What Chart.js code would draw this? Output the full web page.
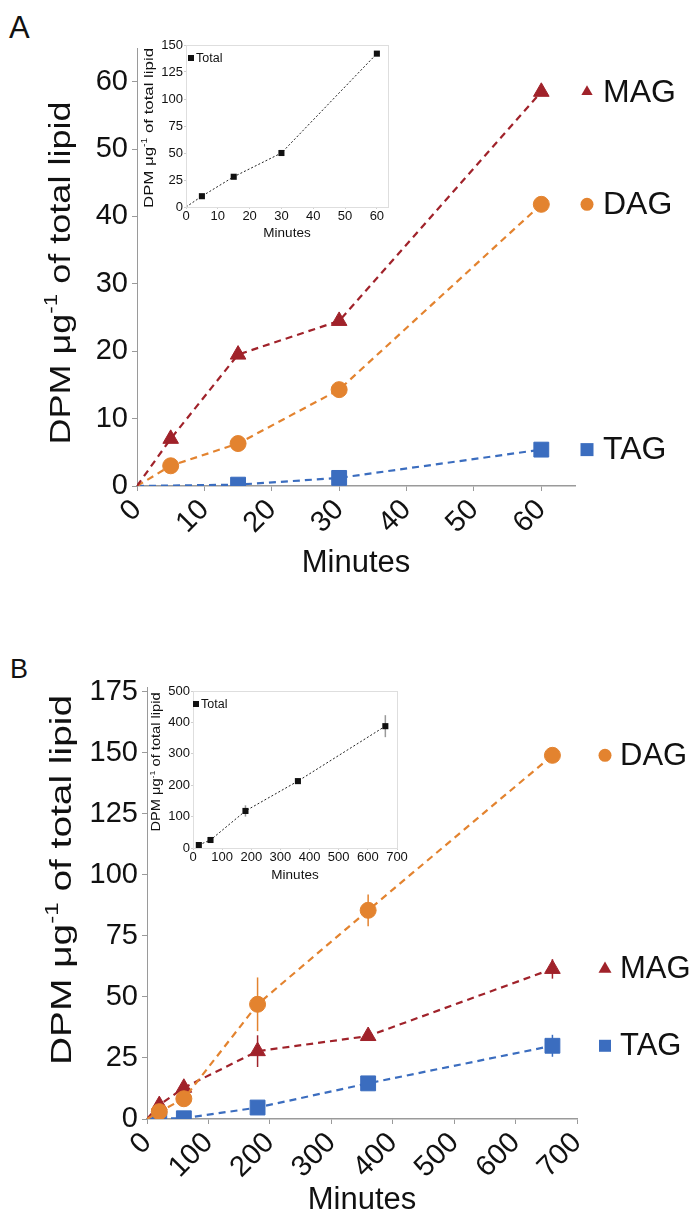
<!DOCTYPE html>
<html>
<head>
<meta charset="utf-8">
<script src="https://cdn.jsdelivr.net/npm/chart.js@4.4.1/dist/chart.umd.min.js"></script>
<style>
  body { margin: 0; background: #fff; width: 695px; height: 1219px; position: relative; overflow: hidden; font-family: 'Liberation Sans', Arial, sans-serif; }
  canvas, .panel { position: absolute; }
  #mainA { left: 0; top: 0; }
  #insetA { left: 125px; top: 30px; }
  #mainB { left: 0; top: 640px; }
  #insetB { left: 135px; top: 675px; }
  .panel { color: #111; line-height: 1; }
</style>
</head>
<body>
<div class="panel" style="left:9px;top:12px;font-size:31px">A</div>
<div class="panel" style="left:10px;top:656px;font-size:27px">B</div>
<canvas id="mainA" width="695" height="600"></canvas>
<canvas id="mainB" width="695" height="579"></canvas>
<canvas id="insetA" width="275" height="215"></canvas>
<canvas id="insetB" width="275" height="215"></canvas>
<script>
// panel A (minutes 0-60)
const minutesA = [0, 5, 15, 30, 60]
const magA = [0, 7.0, 19.5, 24.5, 58.5]
const dagA = [0, 3.0, 6.3, 14.3, 41.8]
const tagA = [0, null, 0.2, 1.2, 5.4]
const totalA = [0, 10, 28, 50, 142]

// panel B (minutes 0-660)
const minutesB = [0, 20, 60, 180, 360, 660]
const dagB = [0, 3, 8.3, 47, 85.5, 149]
const dagErrB = [0, 0, 1.5, 11, 6.5, 2]
const magB = [0, 5.7, 12.8, 27.8, 34, 61.5]
const magErrB = [0, 1, 2, 6.5, 1.5, 4]
const tagB = [0, 0.2, 0.3, 4.7, 14.6, 30]
const tagErrB = [0, 0, 0, 1, 1.5, 4.5]
const minutesTotalB = [20, 60, 180, 360, 660]
const totalB = [9.5, 25.5, 118, 213, 388]
const totalErrB = [3, 5, 18, 8, 35]

const FONT = "'Liberation Sans', Arial, sans-serif"
const MAG_C = '#a0222a'
const DAG_C = '#e3832f'
const TAG_C = '#3b6dbf'
const AXIS_C = '#9a9a9a'

Chart.defaults.font.family = FONT
Chart.defaults.color = '#111'
Chart.defaults.animation = false

function pts(xs, ys) {
    return xs.map((x, i) => ({ x: x, y: ys[i] }))
}
// first point (origin) has no marker
function radii(ys, r) {
    return ys.map((v, i) => (i === 0 ? 0 : r))
}

function drawMarker(ctx, style, x, y, r) {
    ctx.beginPath()
    if (style === 'triangle') {
        ctx.moveTo(x, y - r)
        ctx.lineTo(x + r * 0.866, y + r * 0.5)
        ctx.lineTo(x - r * 0.866, y + r * 0.5)
        ctx.closePath()
    } else if (style === 'rect') {
        ctx.rect(x - r, y - r, 2 * r, 2 * r)
    } else {
        ctx.arc(x, y, r, 0, Math.PI * 2)
    }
    ctx.fill()
}

function px(n) {
    return Math.round(n * 10) / 10 + 'px ' + FONT
}

// rotated y title with superscript -1
const yTitle = {
    id: 'yTitle',
    afterDraw(chart, args, o) {
        const ctx = chart.ctx
        const a = 'DPM \u03bcg', s = '-1', b = ' of total lipid'
        const big = px(o.size), small = px(o.size * 0.62)
        ctx.save()
        ctx.font = big
        const wa = ctx.measureText(a).width, wb = ctx.measureText(b).width
        ctx.font = small
        const ws = ctx.measureText(s).width
        const w = wa + ws + wb
        ctx.translate(o.x, o.y)
        ctx.rotate(-Math.PI / 2)
        ctx.scale(o.length / w, 1)
        ctx.fillStyle = '#111'
        ctx.textBaseline = 'alphabetic'
        const base = o.size * 0.36
        let cx = -w / 2
        ctx.font = big
        ctx.fillText(a, cx, base)
        cx += wa
        ctx.font = small
        ctx.fillText(s, cx, base - o.size * 0.42)
        cx += ws
        ctx.font = big
        ctx.fillText(b, cx, base)
        ctx.restore()
    }
}

// vertical error bars (dataset.errors)
const errorBars = {
    id: 'errorBars',
    beforeDatasetsDraw(chart) {
        const ctx = chart.ctx
        const ys = chart.scales.y
        chart.data.datasets.forEach((ds, i) => {
            if (!ds.errors) return
            const meta = chart.getDatasetMeta(i)
            ctx.save()
            ctx.strokeStyle = ds.errColor || ds.borderColor
            ctx.lineWidth = 1.5
            ds.data.forEach((p, j) => {
                const e = ds.errors[j]
                if (!e) return
                const x = meta.data[j].x
                ctx.beginPath()
                ctx.moveTo(x, ys.getPixelForValue(p.y + e))
                ctx.lineTo(x, ys.getPixelForValue(p.y - e))
                ctx.stroke()
            })
            ctx.restore()
        })
    }
}

// series names drawn at the height of the last point
const endLabels = {
    id: 'endLabels',
    afterDatasetsDraw(chart, args, o) {
        const ctx = chart.ctx
        chart.data.datasets.forEach((ds, i) => {
            const d = chart.getDatasetMeta(i).data
            const y = d[d.length - 1].y
            const x = chart.chartArea.right + o.dx
            ctx.save()
            ctx.fillStyle = ds.backgroundColor
            drawMarker(ctx, ds.pointStyle, x, y, o.r[ds.pointStyle])
            ctx.fillStyle = '#111'
            ctx.font = px(o.size)
            ctx.textBaseline = 'middle'
            ctx.fillText(ds.label, x + o.textDx, y + 1)
            ctx.restore()
        })
    }
}

// inset frame + "Total" key
const insetFrame = {
    id: 'insetFrame',
    afterDraw(chart, args, o) {
        const ctx = chart.ctx
        const a = chart.chartArea
        ctx.save()
        ctx.strokeStyle = '#dedede'
        ctx.lineWidth = 1
        ctx.strokeRect(a.left + 0.5, a.top + 0.5, a.right - a.left, a.bottom - a.top)
        ctx.fillStyle = '#111'
        ctx.fillRect(a.left + o.kx - 3, a.top + o.ky - 3, 6, 6)
        ctx.font = px(12.5)
        ctx.textBaseline = 'middle'
        ctx.fillText('Total', a.left + o.kx + 5, a.top + o.ky + 1)
        ctx.restore()
    }
}

function lineSet(label, xs, ys, color, style, r, errs) {
    return {
        label: label,
        data: pts(xs, ys),
        errors: errs,
        borderColor: color,
        backgroundColor: color,
        borderWidth: 2.2,
        borderDash: [7, 5],
        pointStyle: style,
        pointRadius: radii(ys, r),
        pointBorderWidth: 1,
        spanGaps: true,
    }
}

function mainScales(xMax, xStep, yMax, yStep, yWidth, xHeight, titlePad) {
    const tickFont = { size: 29 }
    return {
        x: {
            type: 'linear', min: 0, max: xMax,
            ticks: { stepSize: xStep, includeBounds: false, minRotation: 45, maxRotation: 45, font: tickFont, padding: 2 },
            grid: { drawOnChartArea: false, tickLength: 5, color: AXIS_C },
            border: { color: AXIS_C, dash: [1, 1], width: 1.5 },
            title: { display: true, text: 'Minutes', font: { size: 31 }, padding: { top: 0, bottom: titlePad } },
            afterFit: (s) => { s.height = xHeight },
        },
        y: {
            min: 0, max: yMax,
            ticks: { stepSize: yStep, includeBounds: false, font: tickFont, padding: 4 },
            grid: { drawOnChartArea: false, tickLength: 5, color: AXIS_C },
            border: { color: AXIS_C, width: 1 },
            afterFit: (s) => { s.width = yWidth },
        },
    }
}

function insetScales(xMax, xStep, yMax, yStep, yWidth, xHeight, titlePad) {
    const tickFont = { size: 13 }
    return {
        x: {
            type: 'linear', min: 0, max: xMax,
            ticks: { stepSize: xStep, includeBounds: false, maxRotation: 0, font: tickFont, padding: 0 },
            grid: { drawOnChartArea: false, tickLength: 2, color: '#cfcfcf' },
            border: { color: '#cfcfcf' },
            title: { display: true, text: 'Minutes', font: { size: 13.5 }, padding: { top: 0, bottom: titlePad } },
            afterFit: (s) => { s.height = xHeight },
        },
        y: {
            min: 0, max: yMax,
            ticks: { stepSize: yStep, includeBounds: false, font: tickFont, padding: 1 },
            grid: { drawOnChartArea: false, tickLength: 2, color: '#cfcfcf' },
            border: { color: '#cfcfcf' },
            afterFit: (s) => { s.width = yWidth },
        },
    }
}

function totalSet(xs, ys, errs) {
    return {
        label: 'Total',
        data: pts(xs, ys),
        errors: errs,
        errColor: '#9a9a9a',
        borderColor: '#222',
        backgroundColor: '#111',
        borderWidth: 1,
        borderDash: [2, 2],
        pointStyle: 'rect',
        pointRadius: xs.map((x) => (x === 0 ? 0 : 4.3)),
        pointBorderWidth: 0,
    }
}

new Chart(document.getElementById('mainA'), {
    type: 'line',
    data: {
        datasets: [
            lineSet('MAG', minutesA, magA, MAG_C, 'triangle', 9),
            lineSet('DAG', minutesA, dagA, DAG_C, 'circle', 8),
            lineSet('TAG', minutesA, tagA, TAG_C, 'rect', 10.5),
        ],
    },
    options: {
        responsive: false,
        layout: { padding: { left: 0, top: 48, right: 120, bottom: 0 } },
        scales: mainScales(65, 10, 65, 10, 137, 114, 18),
        plugins: {
            legend: { display: false },
            tooltip: { enabled: false },
            yTitle: { x: 59, y: 273, size: 30, length: 343 },
            endLabels: { dx: 12, textDx: 16, size: 32, r: { triangle: 6.5, circle: 6.5, rect: 6.5 } },
        },
    },
    plugins: [yTitle, errorBars, endLabels],
})

new Chart(document.getElementById('mainB'), {
    type: 'line',
    data: {
        datasets: [
            lineSet('DAG', minutesB, dagB, DAG_C, 'circle', 8, dagErrB),
            lineSet('MAG', minutesB, magB, MAG_C, 'triangle', 9, magErrB),
            lineSet('TAG', minutesB, tagB, TAG_C, 'rect', 10.5, tagErrB),
        ],
    },
    options: {
        responsive: false,
        layout: { padding: { left: 0, top: 47, right: 118, bottom: 0 } },
        scales: mainScales(700, 100, 177, 25, 147, 100, 0),
        plugins: {
            legend: { display: false },
            tooltip: { enabled: false },
            yTitle: { x: 60, y: 240, size: 30, length: 370 },
            endLabels: { dx: 28, textDx: 15, size: 31, r: { triangle: 7.5, circle: 6.5, rect: 6 } },
        },
    },
    plugins: [yTitle, errorBars, endLabels],
})

new Chart(document.getElementById('insetA'), {
    type: 'line',
    data: { datasets: [totalSet(minutesA, totalA)] },
    options: {
        responsive: false,
        layout: { padding: { left: 0, top: 15, right: 12, bottom: 0 } },
        scales: insetScales(63.5, 10, 150, 25, 61, 38, 4),
        plugins: {
            legend: { display: false },
            tooltip: { enabled: false },
            yTitle: { x: 23, y: 98, size: 13.5, length: 160 },
            insetFrame: { kx: 5, ky: 13 },
        },
    },
    plugins: [yTitle, insetFrame],
})

new Chart(document.getElementById('insetB'), {
    type: 'line',
    data: { datasets: [totalSet(minutesTotalB, totalB, totalErrB)] },
    options: {
        responsive: false,
        layout: { padding: { left: 0, top: 16, right: 13, bottom: 0 } },
        scales: insetScales(700, 100, 500, 100, 58, 42, 7),
        plugins: {
            legend: { display: false },
            tooltip: { enabled: false },
            yTitle: { x: 21, y: 87, size: 12, length: 139 },
            insetFrame: { kx: 3, ky: 13 },
        },
    },
    plugins: [yTitle, errorBars, insetFrame],
})
</script>
</body>
</html>
